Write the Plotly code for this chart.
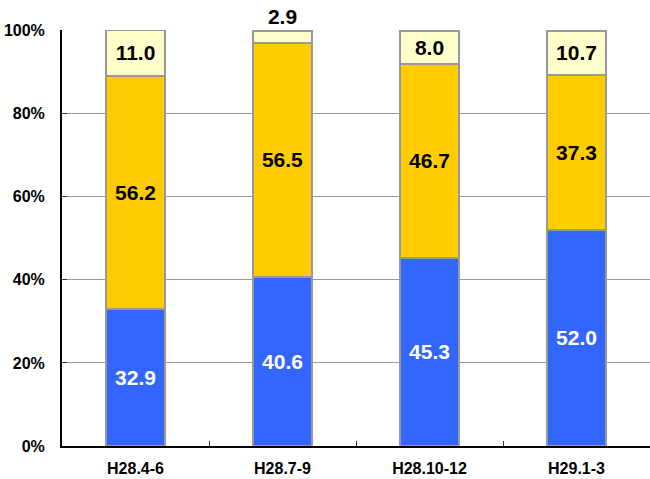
import plotly.graph_objects as go

categories = ["H28.4-6", "H28.7-9", "H28.10-12", "H29.1-3"]
blue_vals = [32.9, 40.6, 45.3, 52.0]
yellow_vals = [56.2, 56.5, 46.7, 37.3]
light_vals = [11.0, 2.9, 8.0, 10.7]
y_tickvals = [0, 20, 40, 60, 80, 100]
y_ticktext = ["0%", "20%", "40%", "60%", "80%", "100%"]

FONT = "Liberation Sans, Arial, sans-serif"
border = dict(color="#999999", width=2)

fig = go.Figure()
fig.add_trace(go.Bar(
    x=categories, y=blue_vals, marker=dict(color="#3366FF", line=border),
    text=[f"{v:.1f}" for v in blue_vals], textposition="inside",
    insidetextanchor="middle", textangle=0, constraintext="none",
    textfont=dict(family=FONT, size=21, color="white", weight="bold"),
    hoverinfo="skip"))
fig.add_trace(go.Bar(
    x=categories, y=yellow_vals, marker=dict(color="#FFCC00", line=border),
    text=[f"{v:.1f}" for v in yellow_vals], textposition="inside",
    insidetextanchor="middle", textangle=0, constraintext="none",
    textfont=dict(family=FONT, size=21, color="black", weight="bold"),
    hoverinfo="skip"))
fig.add_trace(go.Bar(
    x=categories, y=light_vals, marker=dict(color="#FFFFCC", line=border),
    text=[f"{v:.1f}" for v in light_vals],
    textposition=["inside" if v > 5 else "outside" for v in light_vals],
    insidetextanchor="middle", textangle=0, constraintext="none", cliponaxis=False,
    textfont=dict(family=FONT, size=21, color="black", weight="bold"),
    hoverinfo="skip"))

fig.update_layout(
    barmode="stack", bargap=0.6,
    width=650, height=479,
    margin=dict(l=62, r=0, t=30, b=33),
    paper_bgcolor="white", plot_bgcolor="white",
    showlegend=False,
    font=dict(family=FONT, size=16, color="black"),
)
fig.update_yaxes(
    range=[0, 100.12], tickvals=y_tickvals, ticktext=y_ticktext,
    showgrid=True, gridcolor="#999999", gridwidth=1,
    showline=True, linecolor="black", linewidth=2,
    ticks="inside", ticklen=5, tickcolor="#333333",
    tickfont=dict(family=FONT, size=16, color="black", weight="bold"),
    ticklabelstandoff=12, zeroline=False, automargin=False,
)
fig.update_xaxes(
    showline=True, linecolor="black", linewidth=2,
    ticks="inside", tickson="boundaries", ticklen=5, tickcolor="#333333",
    tickfont=dict(family=FONT, size=16, color="black", weight="bold"),
    ticklabelstandoff=7, automargin=False,
)

fig.write_html("out.html", config={"displayModeBar": False},
               post_script="document.body.style.margin='0';")
